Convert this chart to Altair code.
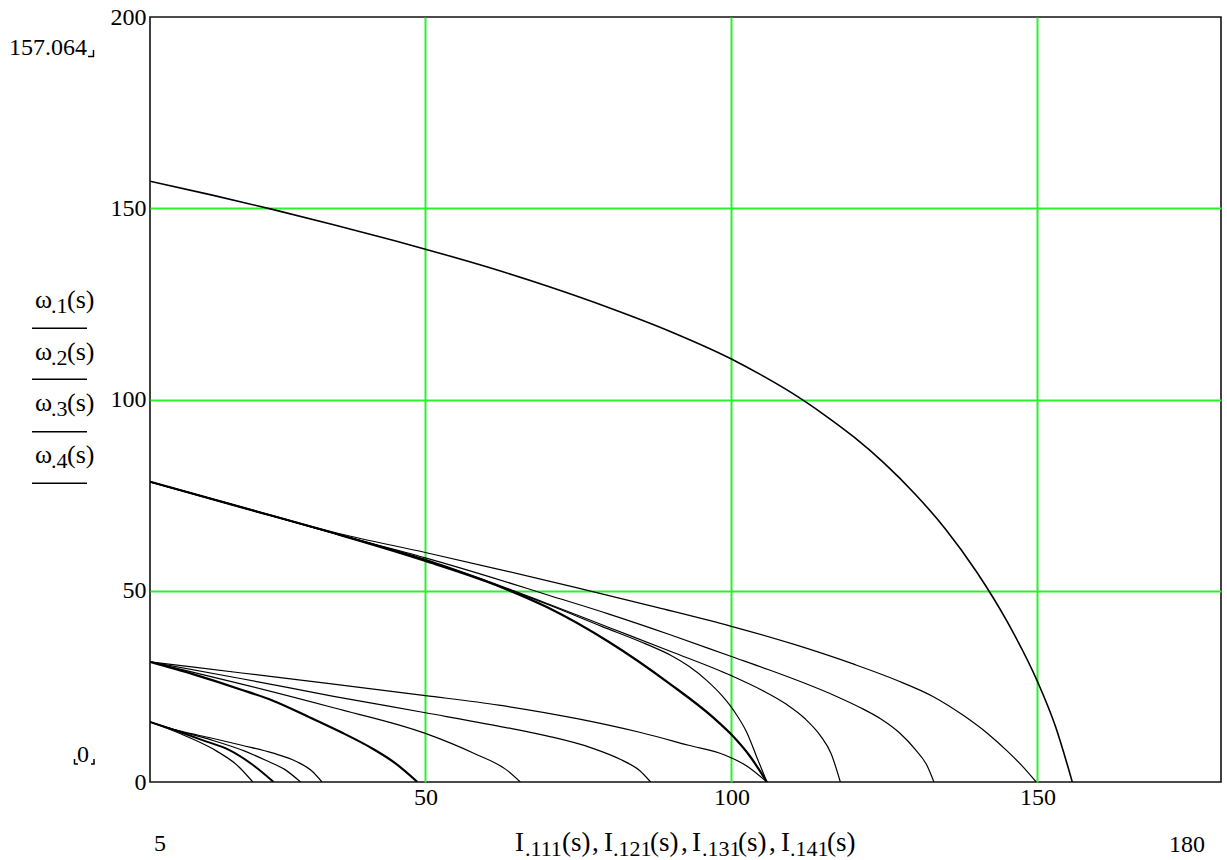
import altair as alt
import pandas as pd

# ---------------------------------------------------------------
# Speed-current characteristics: I (x) versus omega (y)
# ---------------------------------------------------------------

# natural characteristic, omega_1
w1_i = [5, 15, 25, 35, 45, 50, 60, 70, 80, 90, 100, 105, 110, 115, 120, 125, 130,
        135, 140, 145, 150, 153, 155, 155.7]
w1_w = [157.064, 153.5, 149.7, 145.7, 141.5, 139.3, 134.7, 129.6, 124.0, 117.8, 110.6,
        106.3, 101.6, 96.2, 90.2, 83.3, 75.3, 66.1, 55.1, 42.1, 26.3, 14.3, 3.9, 0]

# omega_2 family (starting near 78.5)
w2a_i = [5, 20, 36, 50, 62, 75, 88, 100, 110, 120, 127, 133, 138, 142, 145, 147.5, 149.8]
w2a_w = [78.5, 71.9, 64.9, 60.0, 55.6, 50.7, 45.6, 40.7, 36.1, 30.8, 26.6, 22.3, 17.3,
         12.5, 8.2, 4.2, 0]

w2b_i = [5, 20, 36, 50, 60, 70, 80, 90, 100, 106, 112, 117, 121, 124.5, 127.5, 130, 132, 133.1]
w2b_w = [78.5, 71.8, 64.6, 58.6, 53.9, 48.9, 43.9, 38.5, 32.8, 29.4, 25.8, 22.5, 19.5,
         16.4, 12.8, 8.6, 4.2, 0]

w2c_i = [5, 20, 36, 50, 60, 70, 80, 90, 100, 105, 109, 112, 114.5, 116.3, 117.8]
w2c_w = [78.5, 71.8, 64.6, 58.2, 52.6, 46.6, 40.4, 34.2, 27.8, 24.0, 20.3, 16.6, 12.2, 7.4, 0]

w2d_i = [5, 20, 36, 50, 60, 70, 78.8, 86, 90, 93, 96, 98.5, 100.5, 102.5, 104.2, 105.8]
w2d_w = [78.5, 71.8, 64.6, 58.0, 52.4, 46.4, 40.7, 36.1, 33.2, 30.3, 26.5, 22.5, 18.4,
         13.0, 6.3, 0]

w2e_i = [5, 20, 36, 50, 60, 70, 80, 90, 97, 100, 103, 105.8]
w2e_w = [78.5, 71.8, 64.6, 57.8, 52.4, 45.6, 36.6, 25.6, 16.9, 12.4, 6.8, 0]

# omega_3 family (starting near 31.4)
w3a_i = [5, 20, 35, 50, 62, 75, 85, 93, 99, 102.5, 105.8]
w3a_w = [31.4, 28.5, 25.6, 22.6, 20.1, 16.5, 13.0, 9.6, 7.0, 4.2, 0]

w3b_i = [5, 20, 35, 50, 62.3, 70, 77, 82, 85, 86.8]
w3b_w = [31.4, 27.0, 22.4, 18.1, 14.5, 12.0, 9.0, 5.8, 3.0, 0]

w3c_i = [5, 20, 35, 50, 57.9, 63.3, 65.5]
w3c_w = [31.4, 25.6, 19.4, 12.7, 7.5, 3.1, 0]

w3d_i = [5, 12, 19.8, 25, 30.7, 36, 41.6, 45, 48.7]
w3d_w = [31.4, 28.2, 24.2, 21.3, 17.2, 13.2, 8.5, 5.0, 0]

# omega_4 family (starting near 15.7)
w4a_i = [5, 10, 15.1, 19.5, 21.8]
w4a_w = [15.7, 12.6, 8.8, 4.0, 0]

w4b_i = [5, 10, 14, 17.9, 22.2, 25.2]
w4b_w = [15.7, 13.0, 10.7, 8.4, 4.0, 0]

w4c_i = [5, 10, 15, 20.6, 24, 27, 29.6]
w4c_w = [15.7, 13.2, 11.0, 8.0, 5.6, 3.3, 0]

w4d_i = [5, 10, 15, 20, 25, 29, 31.5, 33.1]
w4d_w = [15.7, 13.3, 11.5, 9.6, 7.6, 5.3, 2.8, 0]

curves = [
    ("w1", w1_i, w1_w, 1.6),
    ("w2a", w2a_i, w2a_w, 1.2),
    ("w2b", w2b_i, w2b_w, 1.2),
    ("w2c", w2c_i, w2c_w, 1.2),
    ("w2d", w2d_i, w2d_w, 1.2),
    ("w2e", w2e_i, w2e_w, 2.2),
    ("w3a", w3a_i, w3a_w, 1.2),
    ("w3b", w3b_i, w3b_w, 1.2),
    ("w3c", w3c_i, w3c_w, 1.2),
    ("w3d", w3d_i, w3d_w, 2.2),
    ("w4a", w4a_i, w4a_w, 1.2),
    ("w4b", w4b_i, w4b_w, 2.0),
    ("w4c", w4c_i, w4c_w, 1.2),
    ("w4d", w4d_i, w4d_w, 1.2),
]

x_ticks = [50, 100, 150]
y_ticks = [0, 50, 100, 150, 200]

rows = []
for name, xs, ys, sw in curves:
    for k, (xv, yv) in enumerate(zip(xs, ys)):
        rows.append({"curve": name, "k": k, "I": xv, "w": yv, "sw": sw})
df = pd.DataFrame(rows)

# ---------------------------------------------------------------
# layout
# ---------------------------------------------------------------
LEFT, TOP = 150, 17
W, H = 1071, 765
SERIF = "Liberation Serif"
GREEN = "#2cf02c"

# (text, left px, baseline px, font size) in page coordinates
main, sub = 27, 22
texts = [
    ("I", 515, 851, main), (".111", 525, 856, sub), ("(s)", 562, 851, main), (",", 592, 851, main),
    ("I", 604, 851, main), (".121", 613, 856, sub), ("(s)", 650, 851, main), (",", 681, 851, main),
    ("I", 692, 851, main), (".131", 702, 856, sub), ("(s)", 738, 851, main), (",", 769, 851, main),
    ("I", 781, 851, main), (".141", 790, 856, sub), ("(s)", 827, 851, main),
    ("157.064", 9, 55, 24), ("0", 77, 762, 24), ("5", 154, 851, 24), ("180", 1169, 852, 24),
]
for j, base in enumerate([308, 359.5, 411, 462.5]):
    texts += [("ω", 35, base, 26), (".%d" % (j + 1), 51, base + 5, 22), ("(s)", 67, base, 26)]

tdf = pd.DataFrame(
    [{"t": t, "px": px - LEFT, "py": py - TOP, "fs": fs} for t, px, py, fs in texts]
)

# fraction bars under the ordinate expressions and placeholder corners
segs = [(32, 87, 328.3, 328.3), (32, 87, 379.3, 379.3), (32, 87, 431.7, 431.7), (32, 87, 483.3, 483.3),
        (88, 94, 56.5, 56.5), (93.5, 93.5, 50, 57),
        (74.5, 74.5, 759, 764.3), (74.5, 78, 764, 764),
        (94, 94, 759, 764.3), (91, 94.5, 764, 764)]
sdf = pd.DataFrame(
    [{"x1": a - LEFT, "x2": b - LEFT, "y1": c - TOP, "y2": d - TOP} for a, b, c, d in segs]
)

x_scale = alt.Scale(domain=[5, 180], nice=False, zero=False)
y_scale = alt.Scale(domain=[0, 200], nice=False, zero=False)

lines = alt.Chart(df).mark_line(color="black", interpolate="monotone", clip=True).encode(
    x=alt.X("I:Q", scale=x_scale, axis=alt.Axis(
        values=x_ticks, grid=True, gridColor=GREEN, gridWidth=2, domain=False,
        ticks=False, tickSize=0, labelFont=SERIF, labelFontSize=24, labelColor="black",
        labelPadding=3, labelFlush=False, title=None)),
    y=alt.Y("w:Q", scale=y_scale, axis=alt.Axis(
        values=y_ticks, grid=True, domain=False,
        gridColor={"condition": {"test": "datum.value == 0 || datum.value == 200",
                                 "value": "transparent"}, "value": GREEN},
        gridWidth=2, ticks=False, tickSize=0, labelFont=SERIF, labelFontSize=24,
        labelColor="black", labelPadding=4, labelFlush=False, title=None)),
    detail="curve:N",
    order="k:Q",
    strokeWidth=alt.StrokeWidth("sw:Q", scale=None),
)

labels = alt.Chart(tdf).mark_text(
    font=SERIF, color="black", align="left", baseline="alphabetic"
).encode(
    x=alt.X("px:Q", scale=None),
    y=alt.Y("py:Q", scale=None),
    text="t:N",
    size=alt.Size("fs:Q", scale=None),
)

bars = alt.Chart(sdf).mark_rule(color="black", strokeWidth=1.5).encode(
    x=alt.X("x1:Q", scale=None),
    x2="x2:Q",
    y=alt.Y("y1:Q", scale=None),
    y2="y2:Q",
)

chart = alt.layer(lines, labels, bars).properties(
    width=W, height=H,
    autosize=alt.AutoSizeParams(type="none"),
    padding={"left": LEFT, "top": TOP, "right": 1227 - LEFT - W, "bottom": 860 - TOP - H},
    background="white",
).configure_view(stroke="#111", strokeWidth=1.6)

chart.save("out.html", embed_options={"renderer": "svg", "actions": False})
